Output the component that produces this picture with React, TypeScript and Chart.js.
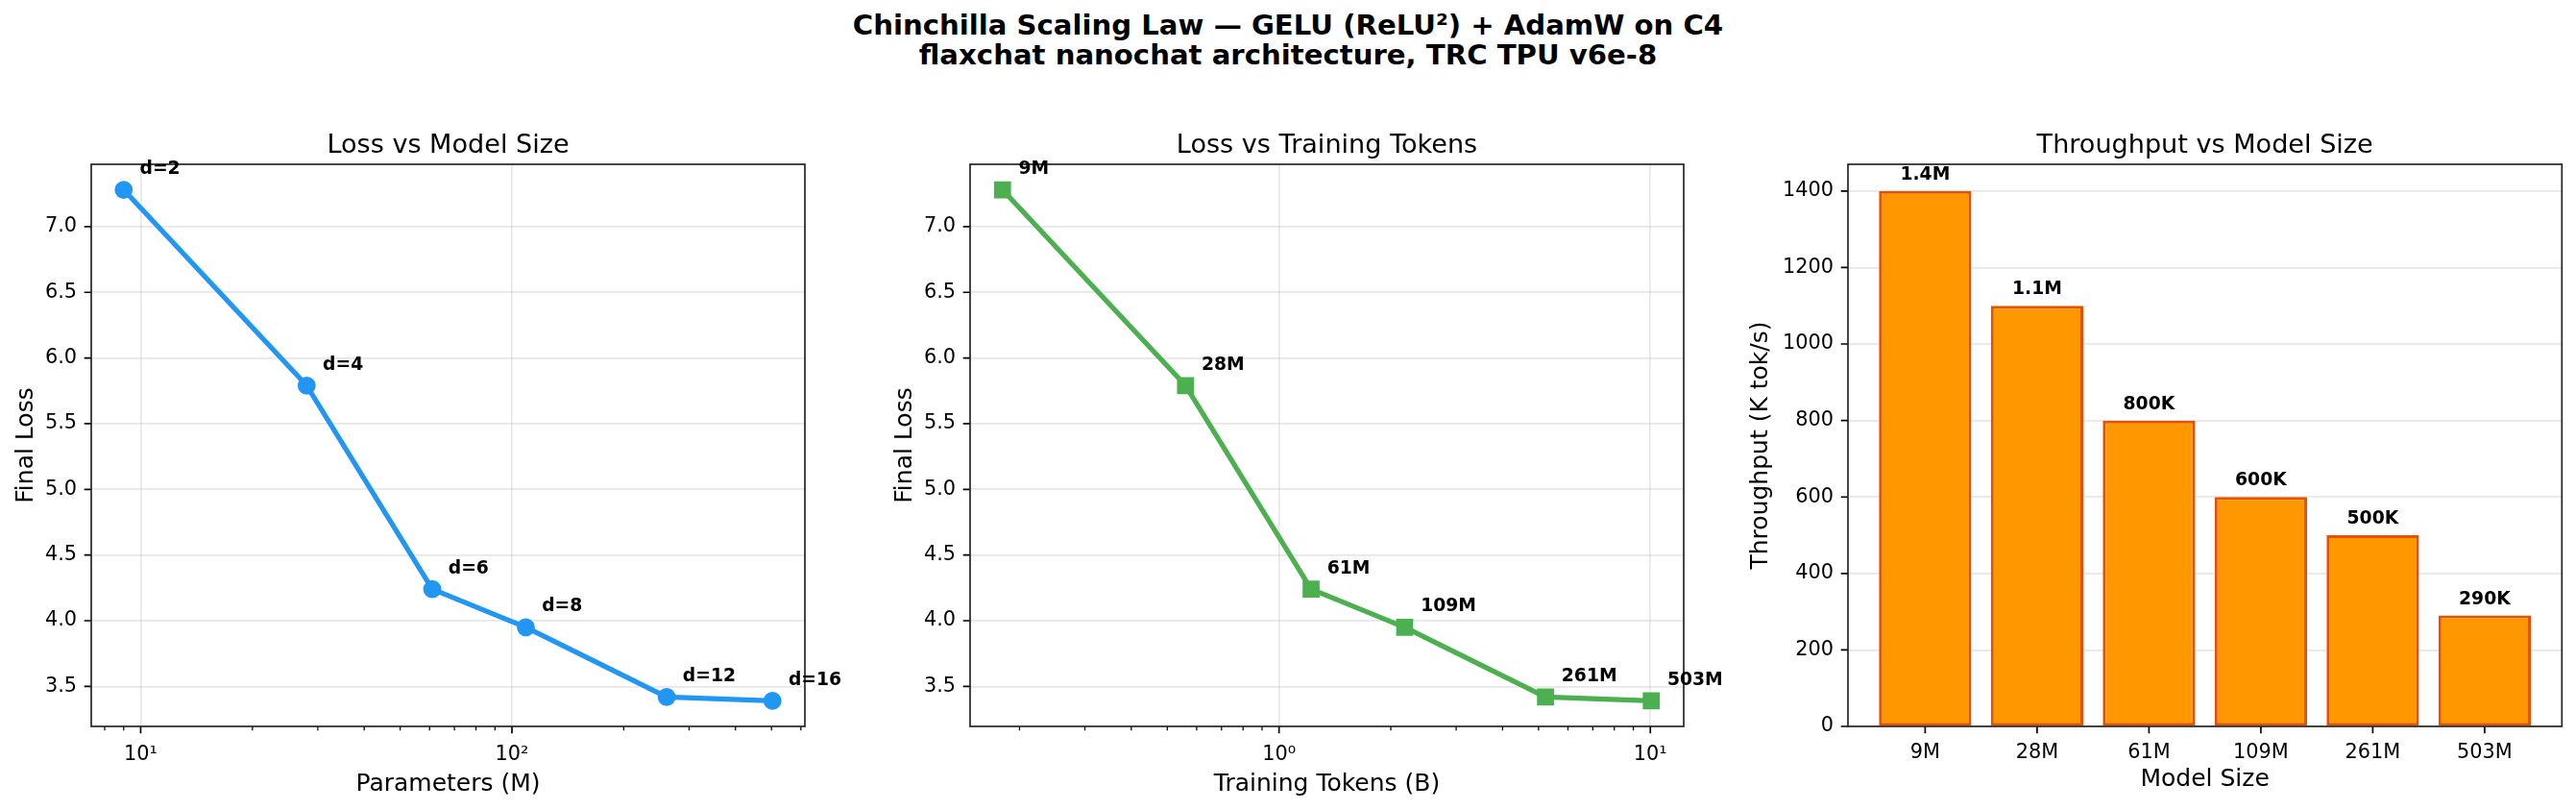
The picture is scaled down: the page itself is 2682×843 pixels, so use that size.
import React, { useEffect, useRef } from 'react';
import { Chart, registerables } from 'chart.js';

Chart.register(...registerables);

const FONT = "'DejaVu Sans', sans-serif";

// ---- data ----
const depthLabels = ['d=2', 'd=4', 'd=6', 'd=8', 'd=12', 'd=16'];
const modelSizeLabels = ['9M', '28M', '61M', '109M', '261M', '503M'];
const paramsM = [9, 28, 61, 109, 261, 503];
const tokensB = [0.18, 0.56, 1.22, 2.18, 5.22, 10.06];
const finalLoss = [7.28, 5.79, 4.24, 3.95, 3.42, 3.39];
const throughputK = [1400, 1100, 800, 600, 500, 290];
const throughputLabels = ['1.4M', '1.1M', '800K', '600K', '500K', '290K'];

// ---- tick labels / positions ----
const lossTicks = [3.5, 4.0, 4.5, 5.0, 5.5, 6.0, 6.5, 7.0];
const throughputTicks = [0, 200, 400, 600, 800, 1000, 1200, 1400];
const paramMajorTicks = [10, 100];
const paramMinorTicks = [8, 9, 20, 30, 40, 50, 60, 70, 80, 90, 200, 300, 400, 500, 600];
const tokenMajorTicks = [1, 10];
const tokenMinorTicks = [0.2, 0.3, 0.4, 0.5, 0.6, 0.7, 0.8, 0.9, 2, 3, 4, 5, 6, 7, 8, 9];

const SUPERTITLE_1 = 'Chinchilla Scaling Law — GELU (ReLU²) + AdamW on C4';
const SUPERTITLE_2 = 'flaxchat nanochat architecture, TRC TPU v6e-8';

const GRID = 'rgba(176,176,176,0.3)';
const TICK_FONT = { family: FONT, size: 20.83 };
const LABEL_FONT = { family: FONT, size: 25 };
const TITLE_FONT = { family: FONT, size: 27.08, weight: 'normal' as const };
const ANNOT_FONT = `bold 18.75px ${FONT}`;

function logRange(vals: number[]): [number, number] {
  const a = Math.log10(Math.min(...vals));
  const b = Math.log10(Math.max(...vals));
  const m = (b - a) * 0.05;
  return [Math.pow(10, a - m), Math.pow(10, b + m)];
}
function linRange(vals: number[]): [number, number] {
  const a = Math.min(...vals);
  const b = Math.max(...vals);
  const m = (b - a) * 0.05;
  return [a - m, b + m];
}
const SUP: Record<string, string> = {
  '0': '⁰', '1': '¹', '2': '²', '3': '³', '4': '⁴', '5': '⁵', '6': '⁶', '7': '⁷', '8': '⁸', '9': '⁹', '-': '⁻',
};
function pow10Label(v: number): string {
  const e = String(Math.round(Math.log10(v)));
  return '10' + e.split('').map((c) => SUP[c]).join('');
}

function framePlugin(minorX: number[]) {
  return {
    id: 'frame',
    afterDraw(chart: any) {
      const { ctx, chartArea: a } = chart;
      const xs = chart.scales.x;
      const ys = chart.scales.y;
      ctx.save();
      ctx.strokeStyle = '#000';
      ctx.lineWidth = 1.25;
      ctx.beginPath();
      for (const v of minorX) {
        const px = xs.getPixelForValue(v);
        ctx.moveTo(px, a.bottom);
        ctx.lineTo(px, a.bottom + 4.2);
      }
      ctx.stroke();
      ctx.lineWidth = 1.67;
      ctx.beginPath();
      for (const t of xs.ticks) {
        const px = xs.getPixelForValue(t.value);
        ctx.moveTo(px, a.bottom);
        ctx.lineTo(px, a.bottom + 7.3);
      }
      for (const t of ys.ticks) {
        const py = ys.getPixelForValue(t.value);
        ctx.moveTo(a.left - 7.3, py);
        ctx.lineTo(a.left, py);
      }
      ctx.stroke();
      ctx.strokeStyle = '#222';
      ctx.lineWidth = 1.67;
      ctx.strokeRect(a.left, a.top, a.right - a.left, a.bottom - a.top);
      ctx.restore();
    },
  };
}

function pointLabelPlugin(labels: string[]) {
  return {
    id: 'pointLabels',
    afterDraw(chart: any) {
      const { ctx } = chart;
      const meta = chart.getDatasetMeta(0);
      ctx.save();
      ctx.font = ANNOT_FONT;
      ctx.fillStyle = '#000';
      ctx.textAlign = 'left';
      ctx.textBaseline = 'alphabetic';
      meta.data.forEach((el: any, i: number) => {
        ctx.fillText(labels[i], el.x + 16.7, el.y - 16.7);
      });
      ctx.restore();
    },
  };
}

function barLabelPlugin(labels: string[]) {
  return {
    id: 'barLabels',
    afterDraw(chart: any) {
      const { ctx } = chart;
      const meta = chart.getDatasetMeta(0);
      ctx.save();
      ctx.font = ANNOT_FONT;
      ctx.fillStyle = '#000';
      ctx.textAlign = 'center';
      ctx.textBaseline = 'alphabetic';
      meta.data.forEach((el: any, i: number) => {
        ctx.fillText(labels[i], el.x, el.y - 12);
      });
      ctx.restore();
    },
  };
}

function lossYAxis() {
  const [lo, hi] = linRange(finalLoss);
  return {
    type: 'linear' as const,
    min: lo,
    max: hi,
    afterBuildTicks: (s: any) => {
      s.ticks = lossTicks.map((v) => ({ value: v }));
    },
    ticks: { padding: 15, font: TICK_FONT, color: '#000', callback: (v: any) => Number(v).toFixed(1) },
    grid: { color: GRID, lineWidth: 1.67, drawTicks: false },
    border: { display: false },
    title: { display: true, text: 'Final Loss', font: LABEL_FONT, color: '#000', padding: { top: 12.7, bottom: 0 } },
    afterFit: (s: any) => {
      s.width = 95;
    },
  };
}

function lineConfig(
  xs: number[],
  title: string,
  xTitle: string,
  majors: number[],
  minors: number[],
  color: string,
  pointStyle: string,
  pointRadius: number,
  labels: string[]
): any {
  const [xmin, xmax] = logRange(xs);
  return {
    type: 'line',
    data: {
      datasets: [
        {
          data: xs.map((x, i) => ({ x, y: finalLoss[i] })),
          borderColor: color,
          backgroundColor: color,
          borderWidth: 5.2,
          borderJoinStyle: 'round',
          tension: 0,
          pointStyle,
          pointRadius,
          pointBorderWidth: 2,
          pointBackgroundColor: color,
          pointBorderColor: color,
          fill: false,
        },
      ],
    },
    options: {
      responsive: false,
      maintainAspectRatio: false,
      animation: false,
      events: [],
      layout: { padding: { top: 135.25, left: 0, right: 45, bottom: 0 } },
      plugins: {
        legend: { display: false },
        tooltip: { enabled: false },
        title: {
          display: true,
          text: title,
          fullSize: false,
          color: '#000',
          font: TITLE_FONT,
          padding: { top: 0, bottom: 3.25 },
        },
      },
      scales: {
        x: {
          type: 'logarithmic',
          min: xmin,
          max: xmax,
          afterBuildTicks: (s: any) => {
            s.ticks = majors.map((v) => ({ value: v, major: true }));
          },
          ticks: {
            autoSkip: false,
            maxRotation: 0,
            padding: 17.5,
            font: TICK_FONT,
            color: '#000',
            callback: (v: any) => pow10Label(Number(v)),
          },
          grid: { color: GRID, lineWidth: 1.67, drawTicks: false },
          border: { display: false },
          title: { display: true, text: xTitle, font: LABEL_FONT, color: '#000', padding: { top: 0, bottom: 11.8 } },
          afterFit: (s: any) => {
            s.height = 87;
          },
        },
        y: lossYAxis(),
      },
    },
    plugins: [framePlugin(minors), pointLabelPlugin(labels)],
  };
}

function barConfig(): any {
  const n = throughputK.length;
  const xmin = -0.4 - (n - 1 + 0.8) * 0.05;
  const xmax = n - 1 + 0.4 + (n - 1 + 0.8) * 0.05;
  const ymax = Math.max(...throughputK) * 1.05;
  return {
    type: 'bar',
    data: {
      datasets: [
        {
          data: throughputK.map((v, i) => ({ x: i, y: v })),
          backgroundColor: '#FF9800',
          borderColor: '#E65100',
          borderWidth: 3,
          borderSkipped: false,
          barPercentage: 0.826,
          categoryPercentage: 1,
        },
      ],
    },
    options: {
      responsive: false,
      maintainAspectRatio: false,
      animation: false,
      events: [],
      layout: { padding: { top: 135.25, left: 0, right: 14.7, bottom: 0 } },
      plugins: {
        legend: { display: false },
        tooltip: { enabled: false },
        title: {
          display: true,
          text: 'Throughput vs Model Size',
          fullSize: false,
          color: '#000',
          font: TITLE_FONT,
          padding: { top: 0, bottom: 3.25 },
        },
      },
      scales: {
        x: {
          type: 'linear',
          offset: false,
          min: xmin,
          max: xmax,
          afterBuildTicks: (s: any) => {
            s.ticks = modelSizeLabels.map((_, i) => ({ value: i }));
          },
          ticks: {
            autoSkip: false,
            maxRotation: 0,
            padding: 14.8,
            font: TICK_FONT,
            color: '#000',
            callback: (v: any) => modelSizeLabels[Math.round(Number(v))],
          },
          grid: { display: false, offset: false, drawTicks: false },
          border: { display: false },
          title: { display: true, text: 'Model Size', font: LABEL_FONT, color: '#000', padding: { top: 0, bottom: 16.5 } },
          afterFit: (s: any) => {
            s.height = 87;
          },
        },
        y: {
          type: 'linear',
          min: 0,
          max: ymax,
          afterBuildTicks: (s: any) => {
            s.ticks = throughputTicks.map((v) => ({ value: v }));
          },
          ticks: { padding: 15, font: TICK_FONT, color: '#000', callback: (v: any) => String(v) },
          grid: { color: GRID, lineWidth: 1.67, drawTicks: false },
          border: { display: false },
          title: {
            display: true,
            text: 'Throughput (K tok/s)',
            font: LABEL_FONT,
            color: '#000',
            padding: { top: 14, bottom: 0 },
          },
          afterFit: (s: any) => {
            s.width = 120;
          },
        },
      },
    },
    plugins: [framePlugin([]), barLabelPlugin(throughputLabels)],
  };
}

const PANELS = [
  { left: 0, width: 883 },
  { left: 915, width: 883 },
  { left: 1804, width: 878 },
];

export default function App() {
  const c1 = useRef<HTMLCanvasElement>(null);
  const c2 = useRef<HTMLCanvasElement>(null);
  const c3 = useRef<HTMLCanvasElement>(null);

  useEffect(() => {
    document.body.style.margin = '0';
    document.body.style.overflow = 'hidden';
    Chart.defaults.font.family = FONT;
    Chart.defaults.color = '#000';
    const charts: Chart[] = [];
    if (c1.current)
      charts.push(
        new Chart(
          c1.current,
          lineConfig(paramsM, 'Loss vs Model Size', 'Parameters (M)', paramMajorTicks, paramMinorTicks, '#2196F3', 'circle', 8.4, depthLabels)
        )
      );
    if (c2.current)
      charts.push(
        new Chart(
          c2.current,
          lineConfig(tokensB, 'Loss vs Training Tokens', 'Training Tokens (B)', tokenMajorTicks, tokenMinorTicks, '#4CAF50', 'rect', 11.1, modelSizeLabels)
        )
      );
    if (c3.current) charts.push(new Chart(c3.current, barConfig()));
    return () => charts.forEach((c) => c.destroy());
  }, []);

  const refs = [c1, c2, c3];
  return (
    <div style={{ position: 'relative', width: 2682, height: 843, background: '#fff', overflow: 'hidden' }}>
      <div
        style={{
          position: 'absolute',
          left: 0,
          top: 10.75,
          width: 2682,
          textAlign: 'center',
          fontFamily: FONT,
          fontWeight: 'bold',
          fontSize: '29.17px',
          lineHeight: '31.7px',
          color: '#000',
        }}
      >
        <div>{SUPERTITLE_1}</div>
        <div>{SUPERTITLE_2}</div>
      </div>
      {PANELS.map((p, i) => (
        <canvas
          key={i}
          ref={refs[i]}
          width={p.width}
          height={843}
          style={{ position: 'absolute', left: p.left, top: 0, width: p.width, height: 843 }}
        />
      ))}
    </div>
  );
}
